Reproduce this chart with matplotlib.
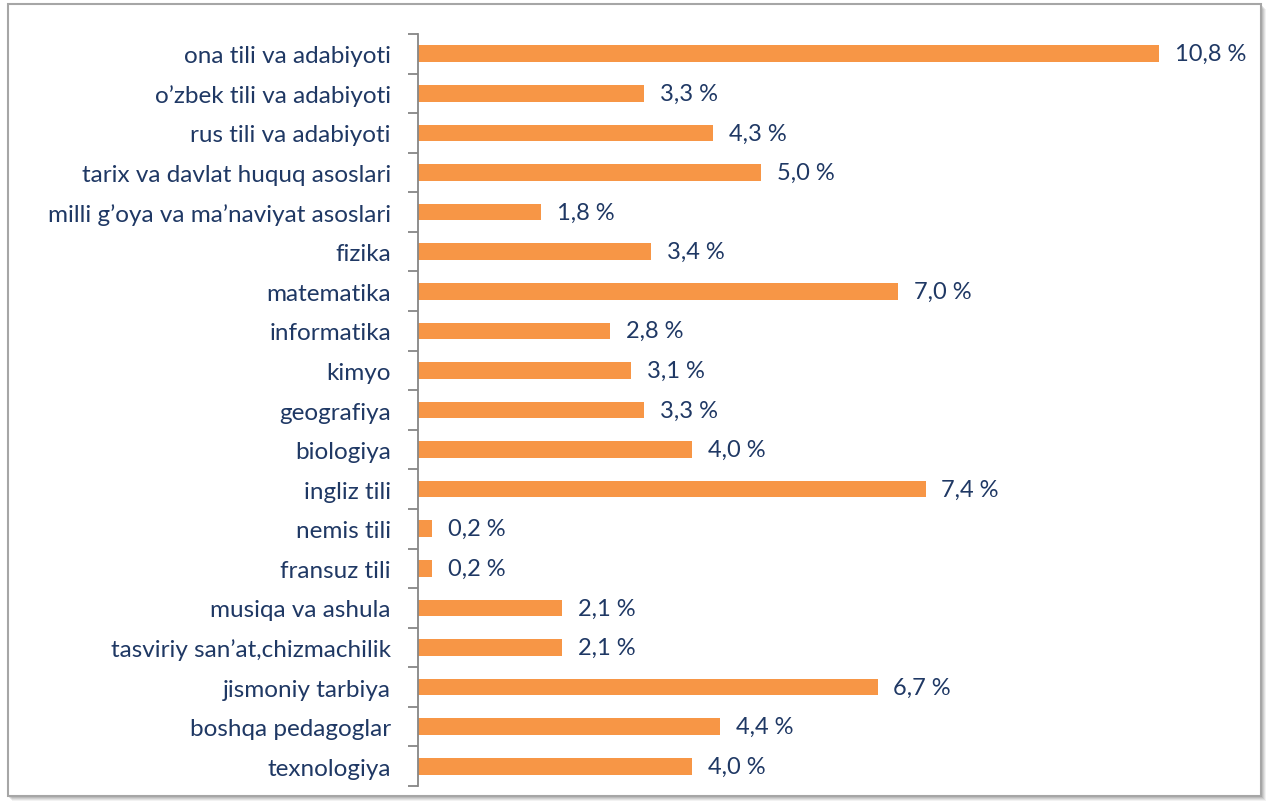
import numpy as np
import matplotlib.pyplot as plt
from matplotlib.patches import Rectangle

subjects = [
    "ona tili va adabiyoti",
    "o’zbek tili va adabiyoti",
    "rus tili va adabiyoti",
    "tarix va davlat huquq asoslari",
    "milli g’oya va ma’naviyat asoslari",
    "fizika",
    "matematika",
    "informatika",
    "kimyo",
    "geografiya",
    "biologiya",
    "ingliz tili",
    "nemis tili",
    "fransuz tili",
    "musiqa va ashula",
    "tasviriy san’at,chizmachilik",
    "jismoniy tarbiya",
    "boshqa pedagoglar",
    "texnologiya",
]
shares = [10.8, 3.3, 4.3, 5.0, 1.8, 3.4, 7.0, 2.8, 3.1, 3.3, 4.0, 7.4,
          0.2, 0.2, 2.1, 2.1, 6.7, 4.4, 4.0]

text_color = "#1F3864"
bar_color = "#F79646"

plt.rcParams['font.family'] = ['Lato', 'DejaVu Sans']

fig = plt.figure(figsize=(12.66, 8.12), dpi=100)

# frame with a soft shadow
W, H = 1266, 812
for k, a in enumerate([0.10, 0.14, 0.18, 0.22]):
    off = 4 - k
    fig.patches.append(Rectangle(((8 + off) / W, (H - 798 - off) / H), 1254 / W, 792 / H,
                                 transform=fig.transFigure, facecolor="#808080",
                                 edgecolor="none", alpha=a, zorder=0))
fig.patches.append(Rectangle((8 / W, (H - 797) / H), 1253 / W, 792 / H,
                             transform=fig.transFigure, facecolor="white",
                             edgecolor="#A6A6A6", linewidth=1.5, zorder=1))

ax = fig.add_axes([418 / W, 1 - 787 / H, (1241 - 418) / W, (787 - 35) / H])
ax.set_zorder(5)
ax.patch.set_alpha(0)

y = np.arange(len(subjects))
ax.barh(y, shares, height=0.42, color=bar_color)
for yi, v in zip(y, shares):
    ax.annotate(f"{v:.1f} %".replace(".", ","), (v, yi), xytext=(11.5, 0),
                textcoords="offset points", va="center", ha="left",
                fontsize=17, color=text_color)

ax.set_xlim(0, 12)
ax.set_ylim(len(subjects) - 0.5, -0.5)
ax.set_yticks(y)
ax.set_yticklabels(subjects, fontsize=17.5, color=text_color)
ax.set_yticks(np.arange(len(subjects) + 1) - 0.5, minor=True)
ax.tick_params(axis="y", which="major", length=0, pad=19.5)
ax.tick_params(axis="y", which="minor", length=7, width=1.3, color="#868686")
ax.set_xticks([])
for s in ["top", "right", "bottom"]:
    ax.spines[s].set_visible(False)
ax.spines["left"].set_color("#868686")
ax.spines["left"].set_linewidth(1.3)

plt.savefig("out.png", dpi=100)
